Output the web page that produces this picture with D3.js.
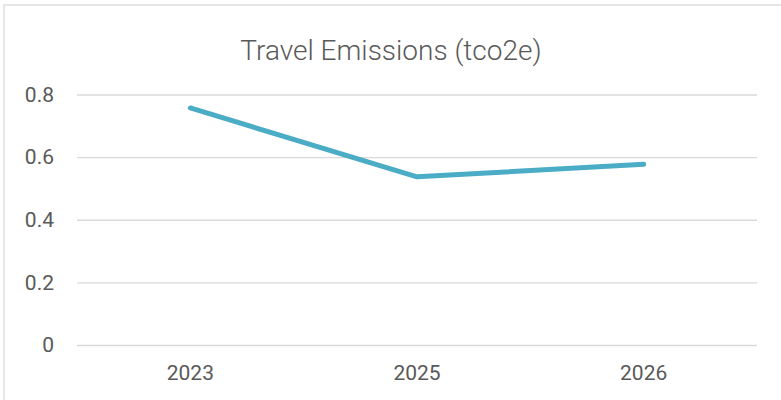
<!DOCTYPE html>
<html>
<head>
  <title>Travel Emissions (tco2e)</title>
  <script src="https://d3js.org/d3.v7.min.js"></script>
  <style>
    body { margin: 0; background: #fff; }
  </style>
</head>
<body>
  <div id="chart"></div>
  <script>
    // data
    const years = ["2023", "2025", "2026"];
    const emissions = [0.757, 0.537, 0.577];
    const yTicks = [0, 0.2, 0.4, 0.6, 0.8];

    const width = 781, height = 400;
    const margin = { top: 94.5, right: 24, bottom: 55, left: 77 };

    const svg = d3.select("#chart").append("svg")
      .attr("width", width)
      .attr("height", height);

    // chart frame (cut off at right and bottom)
    svg.append("rect")
      .attr("x", 4).attr("y", 5)
      .attr("width", 800).attr("height", 420)
      .attr("fill", "#fff")
      .attr("stroke", "#d9d9d9")
      .attr("stroke-width", 1.3);

    const x = d3.scaleBand()
      .domain(years)
      .range([margin.left, width - margin.right]);

    const y = d3.scaleLinear()
      .domain([0, 0.8])
      .range([height - margin.bottom, margin.top]);

    // gridlines + y labels
    const yAxis = svg.append("g")
      .attr("transform", `translate(${margin.left},0)`)
      .call(d3.axisLeft(y).tickValues(yTicks)
        .tickSize(-(width - margin.left - margin.right))
        .tickPadding(23)
        .tickFormat(d => d === 0 ? "0" : d3.format(".1f")(d)));
    yAxis.select(".domain").remove();
    yAxis.selectAll("line").attr("stroke", "#d9d9d9").attr("stroke-width", 1.3);
    yAxis.selectAll("text")
      .attr("fill", "#595959")
      .style("font-family", "Roboto, 'Liberation Sans', sans-serif")
      .style("font-size", "21px");

    // x labels
    const xAxis = svg.append("g")
      .attr("transform", `translate(0,${height - margin.bottom})`)
      .call(d3.axisBottom(x).tickSize(0).tickPadding(20));
    xAxis.select(".domain").remove();
    xAxis.selectAll("text")
      .attr("fill", "#595959")
      .style("font-family", "Roboto, 'Liberation Sans', sans-serif")
      .style("font-size", "21px");

    // line
    const line = d3.line()
      .x((d, i) => x(years[i]) + x.bandwidth() / 2)
      .y(d => y(d));

    svg.append("path")
      .datum(emissions)
      .attr("d", line)
      .attr("fill", "none")
      .attr("stroke", "#4bacc6")
      .attr("stroke-width", 5)
      .attr("stroke-linecap", "round")
      .attr("stroke-linejoin", "round");

    // title
    svg.append("text")
      .attr("x", 391)
      .attr("y", 60)
      .attr("text-anchor", "middle")
      .attr("fill", "#595959")
      .style("font-family", "Roboto, 'Liberation Sans', sans-serif")
      .style("font-size", "28px")
      .style("font-weight", 300)
      .text("Travel Emissions (tco2e)");
  </script>
</body>
</html>
